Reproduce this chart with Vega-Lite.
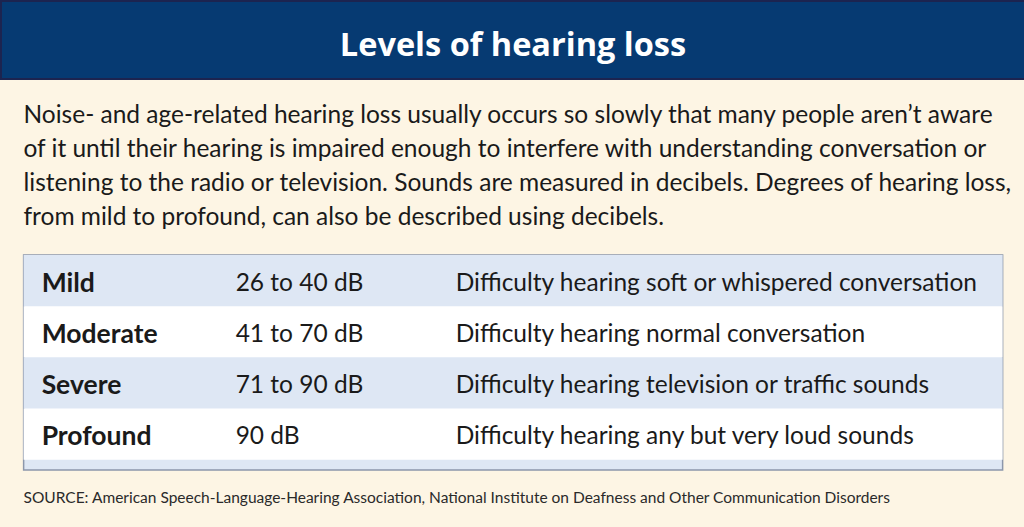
{
  "$schema": "https://vega.github.io/schema/vega-lite/v6.json",
  "padding": 0,
  "background": "#fdf5e4",
  "spacing": 0,
  "center": true,
  "config": {"view": {"stroke": null}, "text": {"font": "Lato", "color": "#1a1a1a"}},
  "datasets": {
    "levels": [
      {"level": "Mild", "range": "26 to 40 dB", "description": "Difficulty hearing soft or whispered conversation"},
      {"level": "Moderate", "range": "41 to 70 dB", "description": "Difficulty hearing normal conversation"},
      {"level": "Severe", "range": "71 to 90 dB", "description": "Difficulty hearing television or traffic sounds"},
      {"level": "Profound", "range": "90 dB", "description": "Difficulty hearing any but very loud sounds"}
    ]
  },
  "vconcat": [
    {
      "width": 1024,
      "height": 78,
      "view": {"fill": "#063a72", "stroke": "#1c2450", "strokeWidth": 2},
      "data": {"values": [{"title": "Levels of hearing loss"}]},
      "mark": {"type": "text", "font": "Open Sans", "fontWeight": "bold", "fontSize": 32.5, "color": "#ffffff", "baseline": "middle", "align": "center", "dy": 6},
      "encoding": {"text": {"field": "title"}}
    },
    {
      "width": 1024,
      "height": 174,
      "data": {"values": [{"intro": "Noise- and age-related hearing loss usually occurs so slowly that many people aren’t aware\nof it until their hearing is impaired enough to interfere with understanding conversation or\nlistening to the radio or television. Sounds are measured in decibels. Degrees of hearing loss,\nfrom mild to profound, can also be described using decibels."}]},
      "mark": {"type": "text", "fontSize": 24.5, "lineBreak": "\n", "lineHeight": 34, "align": "left", "baseline": "alphabetic"},
      "encoding": {"text": {"field": "intro"}, "x": {"value": 22}, "y": {"value": 43}}
    },
    {
      "width": 979,
      "height": 215,
      "view": {"fill": "#dee7f4", "stroke": "#8c97ab", "strokeWidth": 1.5},
      "data": {"name": "levels"},
      "encoding": {
        "y": {"field": "level", "type": "nominal", "sort": null, "axis": null,
              "scale": {"paddingInner": 0, "paddingOuter": 0.1, "align": 0}}
      },
      "layer": [
        {
          "mark": {"type": "rect"},
          "encoding": {
            "color": {"field": "level", "type": "nominal", "legend": null,
                      "scale": {"domain": ["Mild", "Moderate", "Severe", "Profound"], "range": ["#dee7f4", "#ffffff", "#dee7f4", "#ffffff"]}}
          }
        },
        {
          "mark": {"type": "text", "fontSize": 26.5, "fontWeight": "bold", "align": "left", "baseline": "middle", "dy": 3},
          "encoding": {"text": {"field": "level"}, "x": {"value": 18}}
        },
        {
          "mark": {"type": "text", "fontSize": 24.5, "align": "left", "baseline": "middle", "dy": 3},
          "encoding": {"text": {"field": "range"}, "x": {"value": 212}}
        },
        {
          "mark": {"type": "text", "fontSize": 24.5, "align": "left", "baseline": "middle", "dy": 3},
          "encoding": {"text": {"field": "description"}, "x": {"value": 432}}
        }
      ]
    },
    {
      "width": 1024,
      "height": 60,
      "data": {"values": [{"source": "SOURCE: American Speech-Language-Hearing Association, National Institute on Deafness and Other Communication Disorders"}]},
      "mark": {"type": "text", "fontSize": 15.5, "color": "#2a2a2a", "align": "left", "baseline": "middle"},
      "encoding": {"text": {"field": "source"}, "x": {"value": 22}, "y": {"value": 27}}
    }
  ]
}
